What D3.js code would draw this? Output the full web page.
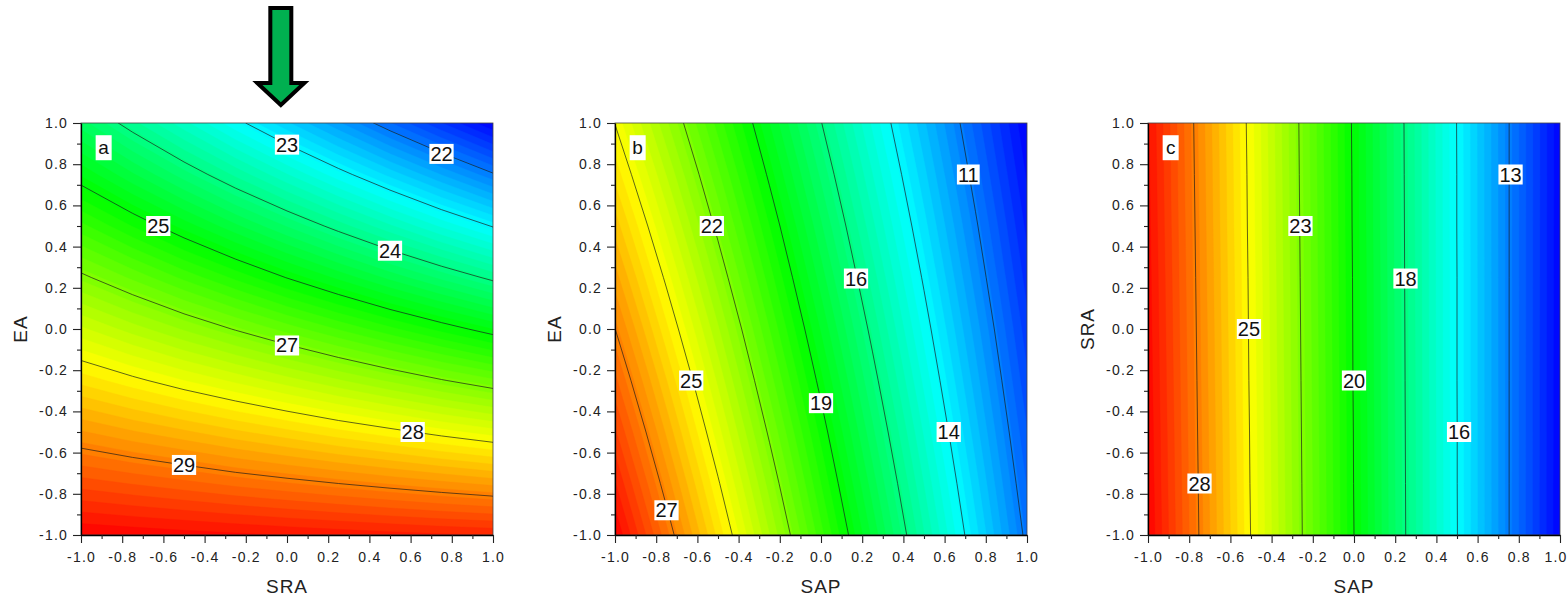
<!DOCTYPE html>
<html><head><meta charset="utf-8">
<script src="https://cdn.jsdelivr.net/npm/d3@7/dist/d3.min.js"></script>
<style>
html,body{margin:0;padding:0;background:#fff;}
svg{display:block;font-family:"Liberation Sans",Arial,sans-serif;}
</style></head><body>
<svg id="chart" width="1568" height="597"></svg>
<script>
// ---------------- DATA ----------------
// sample coordinates of the response grids (coded factor levels)
const gridCoords = [-1, -0.75, -0.5, -0.25, 0, 0.25, 0.5, 0.75, 1];
const tickValues = [-1, -0.8, -0.6, -0.4, -0.2, 0, 0.2, 0.4, 0.6, 0.8, 1];
const tickLabels = ["-1.0","-0.8","-0.6","-0.4","-0.2","0.0","0.2","0.4","0.6","0.8","1.0"];
const minorTickValues = [-0.9, -0.7, -0.5, -0.3, -0.1, 0.1, 0.3, 0.5, 0.7, 0.9];

// rows: y = 1.0 (top) ... -1.0 (bottom); columns: x = -1.0 ... 1.0
const gridA = [ // x = SRA, y = EA
  24.64, 24.17, 23.71, 23.24, 22.78, 22.32, 21.85, 21.39, 20.93,
  25.31, 24.90, 24.49, 24.08, 23.67, 23.26, 22.85, 22.44, 22.03,
  25.99, 25.63, 25.27, 24.91, 24.56, 24.20, 23.84, 23.48, 23.13,
  26.66, 26.36, 26.05, 25.75, 25.44, 25.14, 24.83, 24.53, 24.23,
  27.34, 27.08, 26.83, 26.58, 26.33, 26.08, 25.83, 25.58, 25.33,
  28.01, 27.81, 27.61, 27.42, 27.22, 27.02, 26.82, 26.62, 26.43,
  28.69, 28.54, 28.40, 28.25, 28.11, 27.96, 27.82, 27.67, 27.53,
  29.36, 29.27, 29.18, 29.08, 28.99, 28.90, 28.81, 28.72, 28.63,
  30.04, 30.00, 29.96, 29.92, 29.88, 29.84, 29.80, 29.76, 29.73
];
const gridB = [ // x = SAP, y = EA
  24.56, 22.53, 20.50, 18.48, 16.45, 14.42, 12.40, 10.37, 8.35,
  25.24, 23.17, 21.10, 19.02, 16.95, 14.87, 12.80, 10.72, 8.65,
  25.93, 23.81, 21.69, 19.57, 17.45, 15.32, 13.20, 11.08, 8.96,
  26.62, 24.45, 22.28, 20.11, 17.94, 15.77, 13.60, 11.43, 9.26,
  27.31, 25.09, 22.88, 20.66, 18.44, 16.22, 14.00, 11.79, 9.57,
  28.00, 25.74, 23.47, 21.20, 18.94, 16.67, 14.40, 12.14, 9.87,
  28.69, 26.38, 24.06, 21.75, 19.44, 17.12, 14.81, 12.49, 10.18,
  29.38, 27.02, 24.66, 22.30, 19.93, 17.57, 15.21, 12.85, 10.48,
  30.07, 27.66, 25.25, 22.84, 20.43, 18.02, 15.61, 13.20, 10.79
];
const gridC = [ // x = SAP, y = SRA
  29.93, 27.53, 25.13, 22.73, 20.33, 17.93, 15.53, 13.13, 10.73,
  29.97, 27.56, 25.16, 22.75, 20.35, 17.94, 15.54, 13.13, 10.73,
  30.00, 27.59, 25.18, 22.77, 20.36, 17.95, 15.54, 13.13, 10.72,
  30.04, 27.62, 25.21, 22.79, 20.38, 17.96, 15.55, 13.13, 10.72,
  30.07, 27.65, 25.23, 22.81, 20.39, 17.97, 15.55, 13.13, 10.71,
  30.10, 27.68, 25.25, 22.83, 20.40, 17.98, 15.55, 13.13, 10.70,
  30.14, 27.71, 25.28, 22.85, 20.42, 17.99, 15.56, 13.13, 10.70,
  30.17, 27.74, 25.30, 22.87, 20.43, 18.00, 15.56, 13.13, 10.69,
  30.21, 27.77, 25.33, 22.89, 20.45, 18.01, 15.57, 13.13, 10.69
];

// contour line levels and their printed labels
const levelsA = [28.9, 27.75, 26.6, 25.45, 24.3, 23.15, 22.0];
const levelTextA = ["29","28","27","25","24","23","22"];
const labelXA = [-0.50, 0.61, 0.0, -0.625, 0.50, 0.0, 0.75];
const labelYA = [-0.66, -0.50, -0.08, 0.50, 0.38, 0.895, 0.85];

const levelsB = [27.3, 24.58, 21.86, 19.14, 16.42, 13.70, 10.98];
const levelTextB = ["27","25","22","19","16","14","11"];
const labelXB = [-0.75, -0.63, -0.53, 0.0, 0.17, 0.62, 0.715];
const labelYB = [-0.88, -0.25, 0.50, -0.36, 0.245, -0.50, 0.75];

const levelsC = [27.8, 25.35, 22.9, 20.45, 18.0, 15.55, 13.1];
const levelTextC = ["28","25","23","20","18","16","13"];
const labelXC = [-0.75, -0.51, -0.26, 0.0, 0.25, 0.51, 0.76];
const labelYC = [-0.75, 0.0, 0.50, -0.25, 0.245, -0.50, 0.75];

const panelLetters = ["a", "b", "c"];
const xTitles = ["SRA", "SAP", "SAP"];
const yTitles = ["EA", "EA", "SRA"];

// ---------------- LAYOUT / STYLE ----------------
const W = 1568;
const panelLefts = [81, 615, 1148];
const panelSize = 412, panelTop = 123;
const nBands = 60;
const rainbow = ["#0000ff", "#00ffff", "#00ff00", "#ffff00", "#ff0000"];

const svg = d3.select("#chart");
const defs = svg.append("defs");

const panels = [
  {grid: gridA, levels: levelsA, text: levelTextA, lx: labelXA, ly: labelYA},
  {grid: gridB, levels: levelsB, text: levelTextB, lx: labelXB, ly: labelYB},
  {grid: gridC, levels: levelsC, text: levelTextC, lx: labelXC, ly: labelYC}
];

const n = gridCoords.length;
// contour-grid coordinate -> data coordinate
const gx = d3.scaleLinear().domain([0.5, n - 0.5]).range([gridCoords[0], gridCoords[n - 1]]);
const gy = d3.scaleLinear().domain([0.5, n - 0.5]).range([gridCoords[n - 1], gridCoords[0]]);

let xScaleA = null;

panels.forEach((p, i) => {
  const left = panelLefts[i];
  const x = d3.scaleLinear().domain([-1, 1]).range([left, left + panelSize]);
  const y = d3.scaleLinear().domain([-1, 1]).range([panelTop + panelSize, panelTop]);
  if (i === 0) xScaleA = x;

  const clipId = "clip" + i;
  defs.append("clipPath").attr("id", clipId)
    .append("rect").attr("x", left).attr("y", panelTop)
    .attr("width", panelSize).attr("height", panelSize);

  const path = d3.geoPath(d3.geoTransform({
    point(px, py) { this.stream.point(x(gx(px)), y(gy(py))); }
  }));

  const [mn, mx] = d3.extent(p.grid);
  const span = mx - mn;
  const color = d3.scaleLinear()
    .domain([mn, mn + span * 0.25, mn + span * 0.5, mn + span * 0.75, mx])
    .range(rainbow).interpolate(d3.interpolateRgb).clamp(true);

  const fillThresholds = d3.range(nBands).map(k => mn + span * k / nBands);
  const bands = d3.contours().size([n, n]).thresholds(fillThresholds)(p.grid);

  const g = svg.append("g").attr("clip-path", `url(#${clipId})`);
  g.selectAll("path.band").data(bands).join("path")
    .attr("class", "band")
    .attr("d", path)
    .attr("fill", d => color(d.value + span / nBands / 2))
    .attr("stroke", d => color(d.value + span / nBands / 2))
    .attr("stroke-width", 0.4);

  const lines = d3.contours().size([n, n]).thresholds(p.levels)(p.grid);
  g.selectAll("path.line").data(lines).join("path")
    .attr("class", "line")
    .attr("d", path)
    .attr("fill", "none")
    .attr("stroke", "#1a1a1a")
    .attr("stroke-opacity", 0.85)
    .attr("stroke-width", 0.8);

  // frame
  svg.append("rect").attr("x", left).attr("y", panelTop)
    .attr("width", panelSize).attr("height", panelSize)
    .attr("fill", "none").attr("stroke", "#444").attr("stroke-width", 0.8);

  // contour labels
  const lab = svg.append("g").attr("font-size", 20).attr("fill", "#111");
  p.levels.forEach((lv, k) => {
    const cx = x(p.lx[k]), cy = y(p.ly[k]);
    const rect = lab.append("rect");
    const t = lab.append("text").attr("x", cx).attr("y", cy + 7)
      .attr("text-anchor", "middle").text(p.text[k]);
    const bb = t.node().getBBox();
    rect.attr("x", bb.x - 1).attr("y", cy - 10).attr("width", bb.width + 2)
      .attr("height", 20).attr("fill", "#fff");
  });

  // panel letter
  const lxp = x(-0.89), lyp = y(0.88);
  svg.append("rect").attr("x", lxp - 8).attr("y", lyp - 12.5)
    .attr("width", 16).attr("height", 25).attr("fill", "#fff");
  svg.append("text").attr("x", lxp).attr("y", lyp + 6)
    .attr("text-anchor", "middle").attr("font-size", 19).attr("fill", "#111")
    .text(panelLetters[i]);

  // axes
  const fmt = (d) => tickLabels[tickValues.findIndex(v => Math.abs(v - d) < 1e-9)];
  const gxAxis = svg.append("g").attr("transform", `translate(0,${panelTop + panelSize})`)
    .call(d3.axisBottom(x).tickValues(tickValues).tickFormat(fmt).tickSize(8).tickSizeOuter(0).tickPadding(9));
  svg.append("g").attr("transform", `translate(0,${panelTop + panelSize})`)
    .call(d3.axisBottom(x).tickValues(minorTickValues).tickFormat("").tickSize(4).tickSizeOuter(0))
    .call(s => s.select(".domain").remove());
  const gyAxis = svg.append("g").attr("transform", `translate(${left},0)`)
    .call(d3.axisLeft(y).tickValues(tickValues).tickFormat(fmt).tickSize(8).tickSizeOuter(0).tickPadding(5));
  svg.append("g").attr("transform", `translate(${left},0)`)
    .call(d3.axisLeft(y).tickValues(minorTickValues).tickFormat("").tickSize(4).tickSizeOuter(0))
    .call(s => s.select(".domain").remove());
  [gxAxis, gyAxis].forEach(a => {
    a.selectAll("text").attr("font-size", 14).attr("fill", "#222")
      .style("letter-spacing", "1.2px").attr("font-family", "Liberation Sans, Arial, sans-serif");
    a.select(".domain").attr("stroke", "#000").attr("stroke-width", 1.3);
  });
  // keep the last bottom label inside the page
  gxAxis.selectAll("text").each(function () {
    const bb = this.getBBox();
    const right = x(+this.__data__) + bb.width / 2;
    if (right > W - 1) d3.select(this).attr("dx", (W - 1 - right) + "px");
  });
  svg.selectAll(".tick line").attr("stroke", "#222").attr("stroke-width", 1.1);

  // axis titles
  svg.append("text").attr("x", left + panelSize / 2).attr("y", 593)
    .attr("text-anchor", "middle").attr("font-size", 19).attr("fill", "#222")
    .style("letter-spacing", "1px").text(xTitles[i]);
  svg.append("text")
    .attr("transform", `translate(${left - 54.5},${panelTop + panelSize / 2}) rotate(-90)`)
    .attr("text-anchor", "middle").attr("font-size", 19).attr("fill", "#222")
    .style("letter-spacing", "1px").text(yTitles[i]);
});

// green arrow pointing at panel a
const ax = xScaleA(-0.03);
const arrowPts = [[ax - 10.5, 8], [ax + 10.5, 8], [ax + 10.5, 83], [ax + 23.5, 83],
                  [ax, 105], [ax - 23.5, 83], [ax - 10.5, 83]];
svg.append("path")
  .attr("d", d3.line()(arrowPts) + "Z")
  .attr("fill", "#00b050").attr("stroke", "#000").attr("stroke-width", 4)
  .attr("stroke-linejoin", "miter");
</script>
</body></html>
